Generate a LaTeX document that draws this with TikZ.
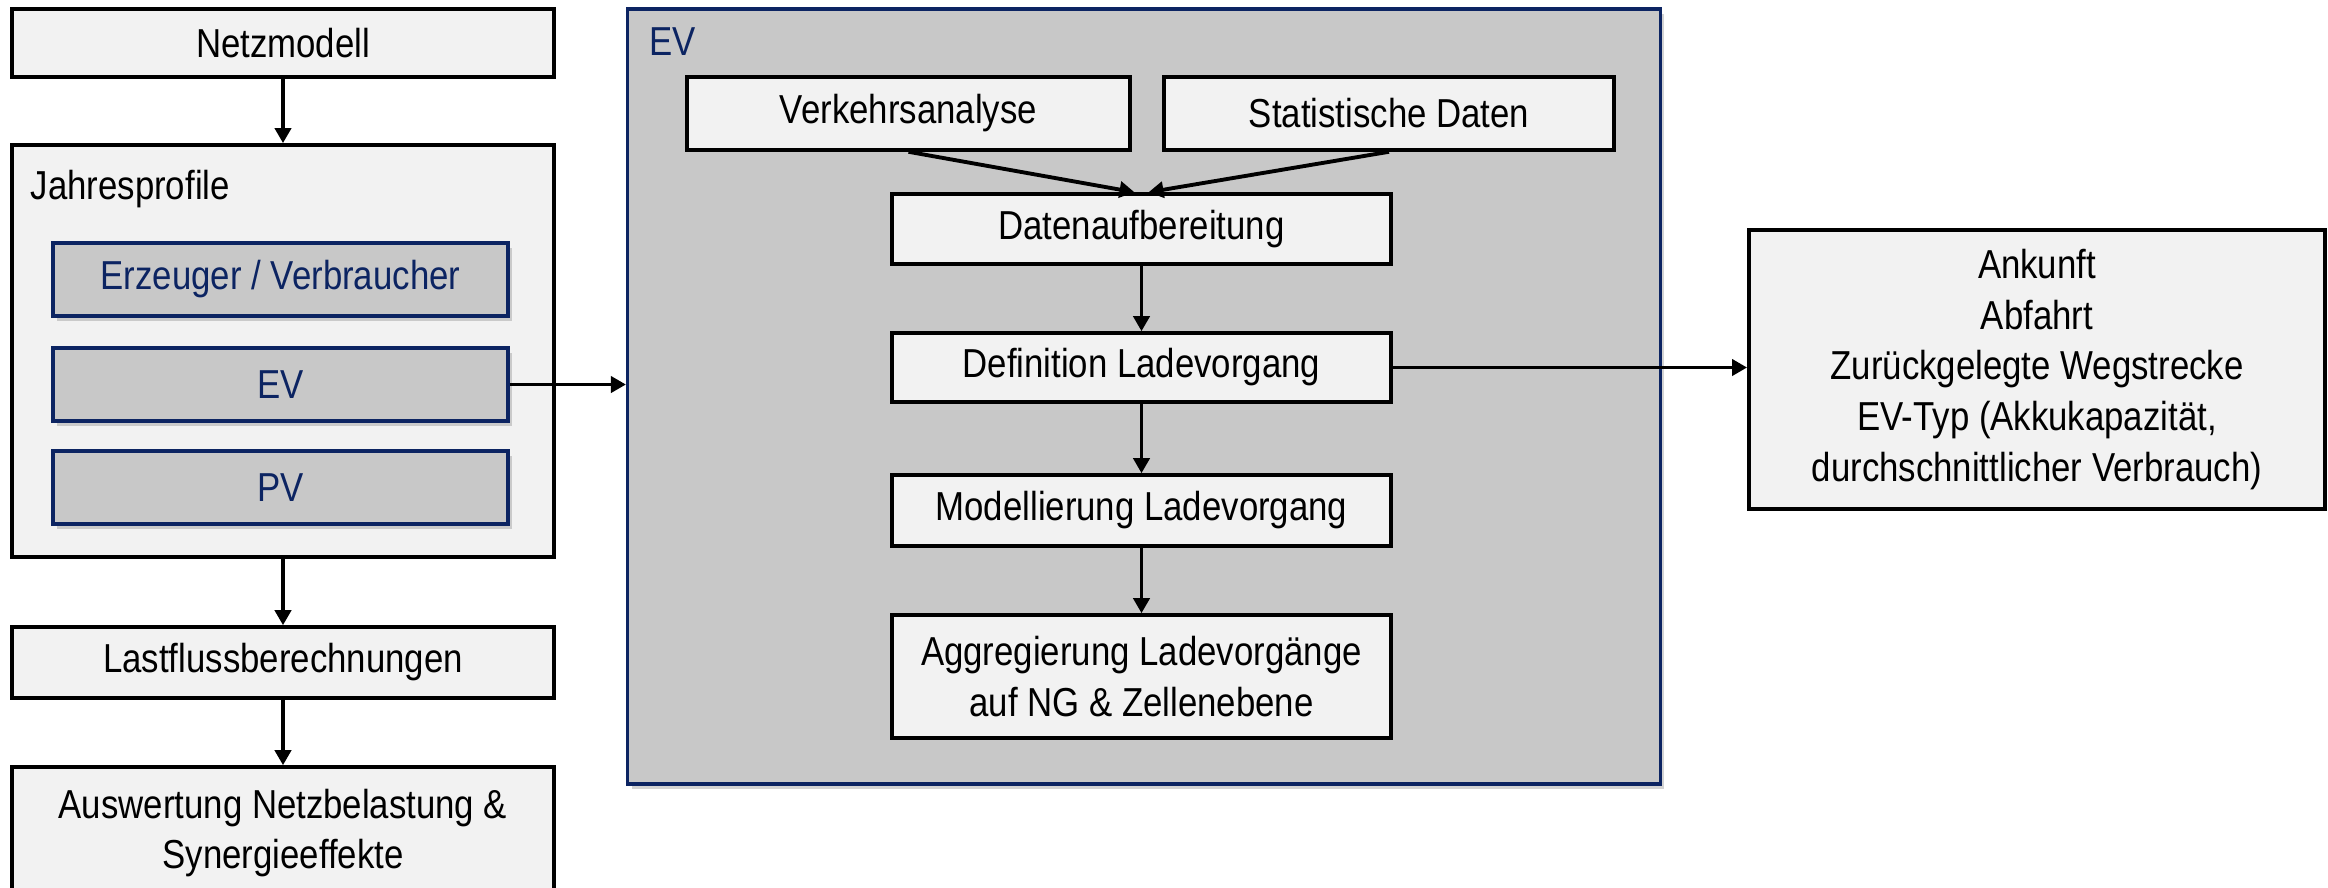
\documentclass[tikz,border=0pt]{standalone}
\usepackage{fontspec}
\setmainfont{Liberation Sans}[FakeStretch=0.86]
\usetikzlibrary{arrows.meta}
\usetikzlibrary{shadows}
\usetikzlibrary{positioning}
\usepackage{xcolor}
\definecolor{evblue}{HTML}{0C2462}
\definecolor{evgray}{HTML}{C8C8C8}
\definecolor{boxgray}{HTML}{F2F2F2}

\begin{document}
\begin{tikzpicture}[x=0.01cm, y=-0.01cm,
  font=\fontsize{11.5}{14.4}\selectfont,
  lightbox/.style={draw=black, line width=1pt, fill=boxgray, align=center, inner sep=0pt},
  bluebox/.style={draw=evblue, line width=1pt, fill=evgray, text=evblue, inner sep=0pt,
    drop shadow={shadow xshift=0.04cm, shadow yshift=-0.05cm, opacity=0.35}},
  flow/.style={-{Triangle[length=0.15cm,width=0.16cm]}, line width=1.1pt}]
  \useasboundingbox (0,0) rectangle (2328,887);
  \node[lightbox, minimum width=5.42cm, minimum height=0.68cm] (netz) at (283,43) {Netzmodell};
  \node[lightbox, minimum width=5.42cm, minimum height=4.12cm] (jahr) at (283,351) {};
  \node[anchor=west, inner sep=0pt] (jahrlabel) at (30,189) {Jahresprofile};
  \node[bluebox, minimum width=4.55cm, minimum height=0.73cm] (erzeuger) at (280.5,279.5) {Erzeuger / Verbraucher};
  \node[bluebox, minimum width=4.55cm, minimum height=0.73cm] (evprofil) at (280.5,384.5) {EV};
  \node[bluebox, minimum width=4.55cm, minimum height=0.73cm] (pv) at (280.5,487.5) {PV};
  \node[lightbox, minimum width=5.42cm, minimum height=0.71cm] (last) at (283,662.5) {Lastflussberechnungen};
  \node[lightbox, minimum width=5.42cm, minimum height=1.32cm] (ausw) at (283,833)
    {Auswertung Netzbelastung \&\\Synergieeffekte};

  \node[bluebox, minimum width=10.32cm, minimum height=7.75cm] (evrahmen) at (1144,396.5) {};
  \node[anchor=west, inner sep=0pt, text=evblue] (evlabel) at (649,42) {EV};
  \node[lightbox, minimum width=4.43cm, minimum height=0.73cm] (vk) at (908.5,113.5) {Verkehrsanalyse};
  \node[lightbox, minimum width=4.50cm, minimum height=0.73cm] (sd) at (1389,113.5) {Statistische Daten};
  \node[lightbox, minimum width=4.99cm, minimum height=0.70cm] (dat) at (1141.5,229) {Datenaufbereitung};
  \node[lightbox, minimum width=4.99cm, minimum height=0.69cm] (def) at (1141.5,367.5) {Definition Ladevorgang};
  \node[lightbox, minimum width=4.99cm, minimum height=0.71cm] (mod) at (1141.5,510.5) {Modellierung Ladevorgang};
  \node[lightbox, minimum width=4.99cm, minimum height=1.23cm] (agg) at (1141.5,676.5)
    {Aggregierung Ladevorgänge\\auf NG \& Zellenebene};

  \node[lightbox, minimum width=5.76cm, minimum height=2.79cm] (res) at (2037,369.5)
    {Ankunft\\Abfahrt\\Zurückgelegte Wegstrecke\\EV-Typ (Akkukapazität,\\durchschnittlicher Verbrauch)};

  \draw[flow] (netz) -- (jahr);
  \draw[flow] (jahr) -- (last);
  \draw[flow] (last) -- (ausw);
  \draw[flow] (evprofil.east) -- (evprofil.east -| evrahmen.west);
  \draw[flow] (vk.south) -- ([xshift=-0.07cm]dat.north);
  \draw[flow] (sd.south) -- ([xshift=0.07cm]dat.north);
  \draw[flow] (dat) -- (def);
  \draw[flow] (def) -- (mod);
  \draw[flow] (mod) -- (agg);
  \draw[flow] (def.east) -- (def.east -| res.west);
\end{tikzpicture}
\end{document}
